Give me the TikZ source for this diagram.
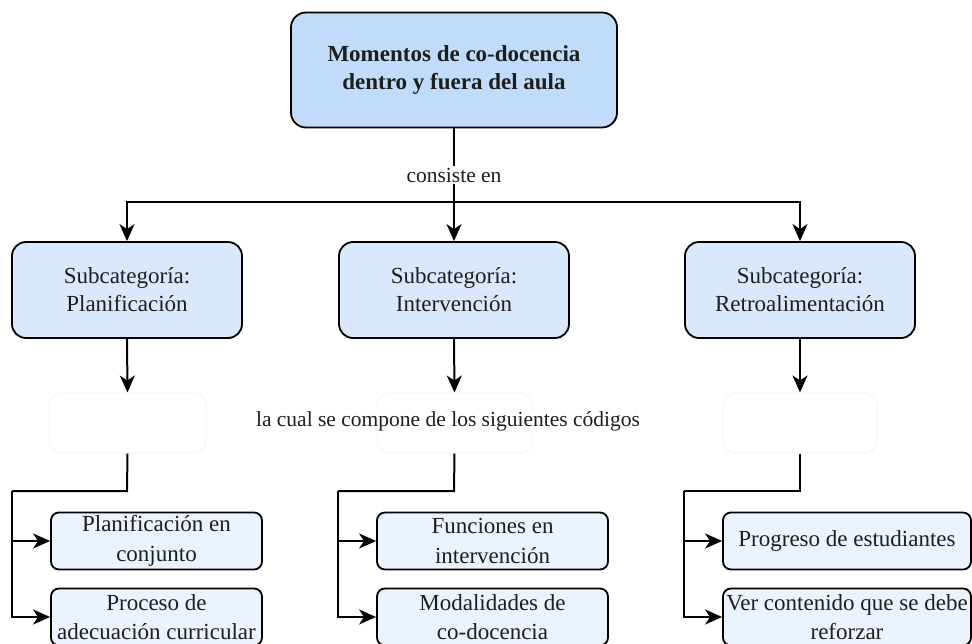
\documentclass[tikz,border=0pt]{standalone}
\usepackage{fontspec}
\setmainfont{Liberation Serif}
\usetikzlibrary{arrows.meta}
\definecolor{topfill}{HTML}{C0DCFA}
\definecolor{subfill}{HTML}{DAE8FC}
\definecolor{codefill}{HTML}{EBF3FE}
\definecolor{txt}{HTML}{1E1E1E}
\tikzset{
  x=1pt, y=-1pt,
  box/.style={draw=black, line width=1.8pt, rounded corners=#1, align=center, text=txt, inner sep=0pt},
  topbox/.style={box=15pt, fill=topfill, minimum width=326pt, minimum height=115pt,
    font=\fontsize{23}{28}\selectfont\bfseries},
  subbox/.style={box=14pt, fill=subfill, minimum width=230pt, minimum height=96pt,
    font=\fontsize{23}{28}\selectfont},
  ghost/.style={draw=black!4, line width=1pt, rounded corners=12pt, fill=white, minimum height=60pt},
  codebox/.style={box=8pt, fill=codefill, minimum height=57pt,
    font=\fontsize{23}{29.5}\selectfont},
  lbl/.style={fill=white, text=txt, inner sep=2pt, font=\fontsize{21.5}{25}\selectfont},
  conn/.style={line width=2pt, draw=black},
  arr/.style={conn, -{Stealth[length=17pt,width=15pt,inset=5pt]}},
}
\begin{document}
\begin{tikzpicture}
\useasboundingbox (0,0) rectangle (972,643);
% nodes
\node[topbox] (top) at (454,70) {Momentos de co-docencia\\dentro y fuera del aula};
\node[subbox] (s1) at (127,290) {Subcategoría:\\Planificación};
\node[subbox] (s2) at (454,290) {Subcategoría:\\Intervención};
\node[subbox] (s3) at (800,290) {Subcategoría:\\Retroalimentación};
\node[ghost, minimum width=157pt] (w1) at (127.5,423) {};
\node[ghost, minimum width=155pt] (w2) at (454.5,423) {};
\node[ghost, minimum width=154pt] (w3) at (800,423) {};
\node[codebox, minimum width=211pt] (b11) at (156.5,541) {Planificación en\\conjunto};
\node[codebox, minimum width=211pt] (b12) at (156.5,617) {Proceso de\\adecuación curricular};
\node[codebox, minimum width=231pt] (b21) at (492.5,541) {Funciones en\\intervención};
\node[codebox, minimum width=231pt] (b22) at (492.5,617) {Modalidades de\\co-docencia};
\node[codebox, minimum width=248pt] (b31) at (847,541) {Progreso de estudiantes};
\node[codebox, minimum width=248pt] (b32) at (847,617) {Ver contenido que se debe\\reforzar};
% coordinates
\coordinate (sp) at (454,202);
\coordinate (j1) at (127,491);
\coordinate (k1) at (12,491);
\coordinate (j2) at (454,491);
\coordinate (k2) at (338,491);
\coordinate (j3) at (800,491);
\coordinate (k3) at (684,491);
% connectors
\draw[conn] (top.south) -- (sp);
\draw[arr] (sp) -- (s2.north);
\draw[arr] (sp) -| (s1.north);
\draw[arr] (sp) -| (s3.north);
\node[lbl] (l1) at (454,175) {consiste en};
\draw[arr] (s1.south) -- (w1.north);
\draw[arr] (s2.south) -- (w2.north);
\draw[arr] (s3.south) -- (w3.north);
\node[lbl] (l2) at (448,421) {la cual se compone de los siguientes códigos};
\draw[conn] (w1.south) -- (j1) -- (k1);
\draw[arr] (k1) |- (b11.west);
\draw[arr] (k1) |- (b12.west);
\draw[conn] (w2.south) -- (j2) -- (k2);
\draw[arr] (k2) |- (b21.west);
\draw[arr] (k2) |- (b22.west);
\draw[conn] (w3.south) -- (j3) -- (k3);
\draw[arr] (k3) |- (b31.west);
\draw[arr] (k3) |- (b32.west);
\end{tikzpicture}
\end{document}
